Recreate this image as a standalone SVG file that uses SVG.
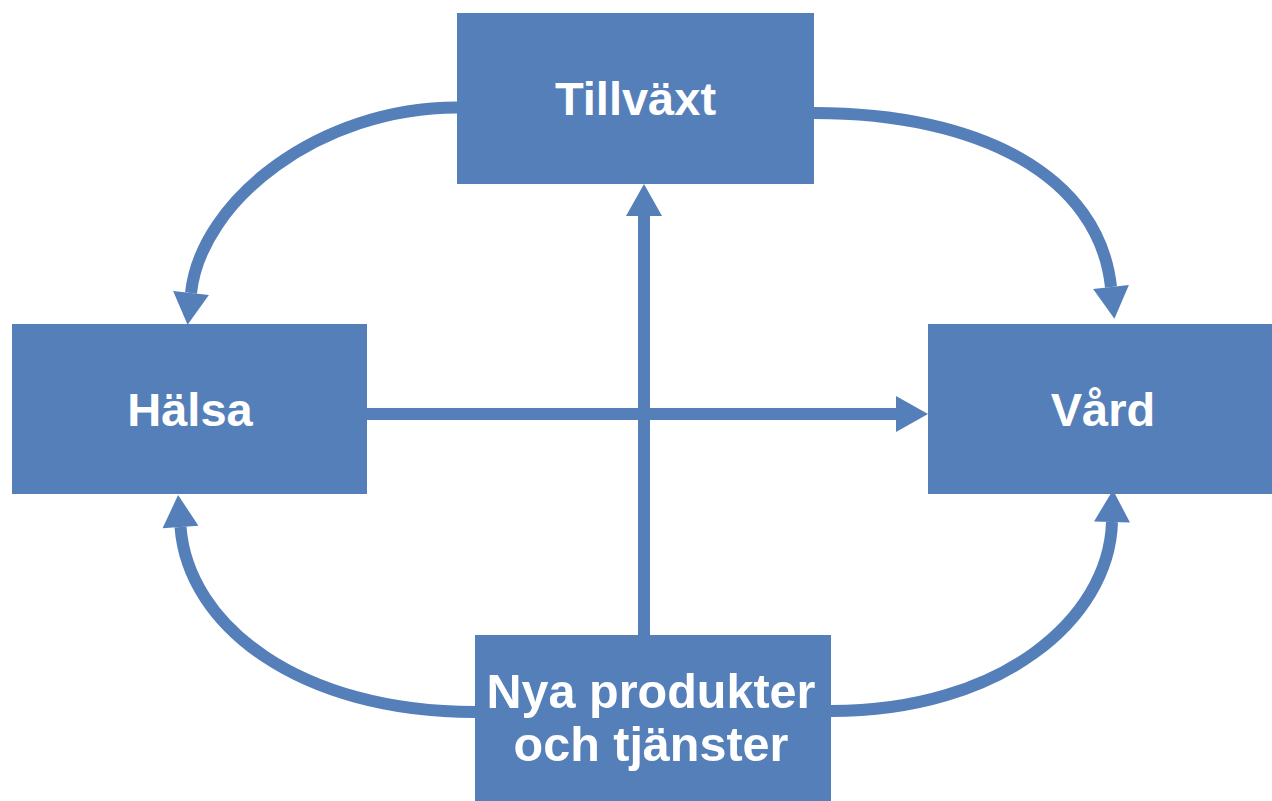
<svg xmlns="http://www.w3.org/2000/svg" width="1272" height="801" viewBox="0 0 1272 801">
<style>
.box{fill:#557FB9}
.lbl{font-family:"Liberation Sans",Arial,sans-serif;font-weight:bold;font-size:47px;fill:#ffffff;text-anchor:middle}
.big{font-size:48.5px}
.con{fill:none;stroke:#557FB9;stroke-width:12;marker-end:url(#ah)}
</style>
<defs>
<marker id="ah" markerUnits="userSpaceOnUse" markerWidth="34" markerHeight="36" refX="0" refY="18" orient="auto" overflow="visible">
<path d="M0,0 L32,18 L0,36 Z" fill="#557FB9"/>
</marker>
</defs>
<rect width="1272" height="801" fill="#ffffff"/>
<g id="connectors">
<path class="con" d="M457,107.5 C320,107.5 201,200 191,293"/>
<path class="con" d="M814,113 C980,113 1099,176 1111,287"/>
<path class="con" d="M475,712 C300,712 188,626 180.5,527"/>
<path class="con" d="M831,711 C1000,711 1109,620 1112,522"/>
<path class="con" d="M644,635 L644,216"/>
<path class="con" d="M366,414 L896,414"/>
</g>
<g id="tillvaxt"><rect class="box" x="457" y="13" width="357" height="171"/><text class="lbl" x="635.5" y="115">Tillväxt</text></g>
<g id="halsa"><rect class="box" x="12" y="324" width="355" height="170"/><text class="lbl" x="190" y="426">Hälsa</text></g>
<g id="vard"><rect class="box" x="928" y="324" width="344" height="170"/><text class="lbl" x="1103" y="426">Vård</text></g>
<g id="nya"><rect class="box" x="475" y="635" width="356" height="166"/><text class="lbl big" x="651" y="708">Nya produkter</text><text class="lbl big" x="651" y="761">och tjänster</text></g>
</svg>
